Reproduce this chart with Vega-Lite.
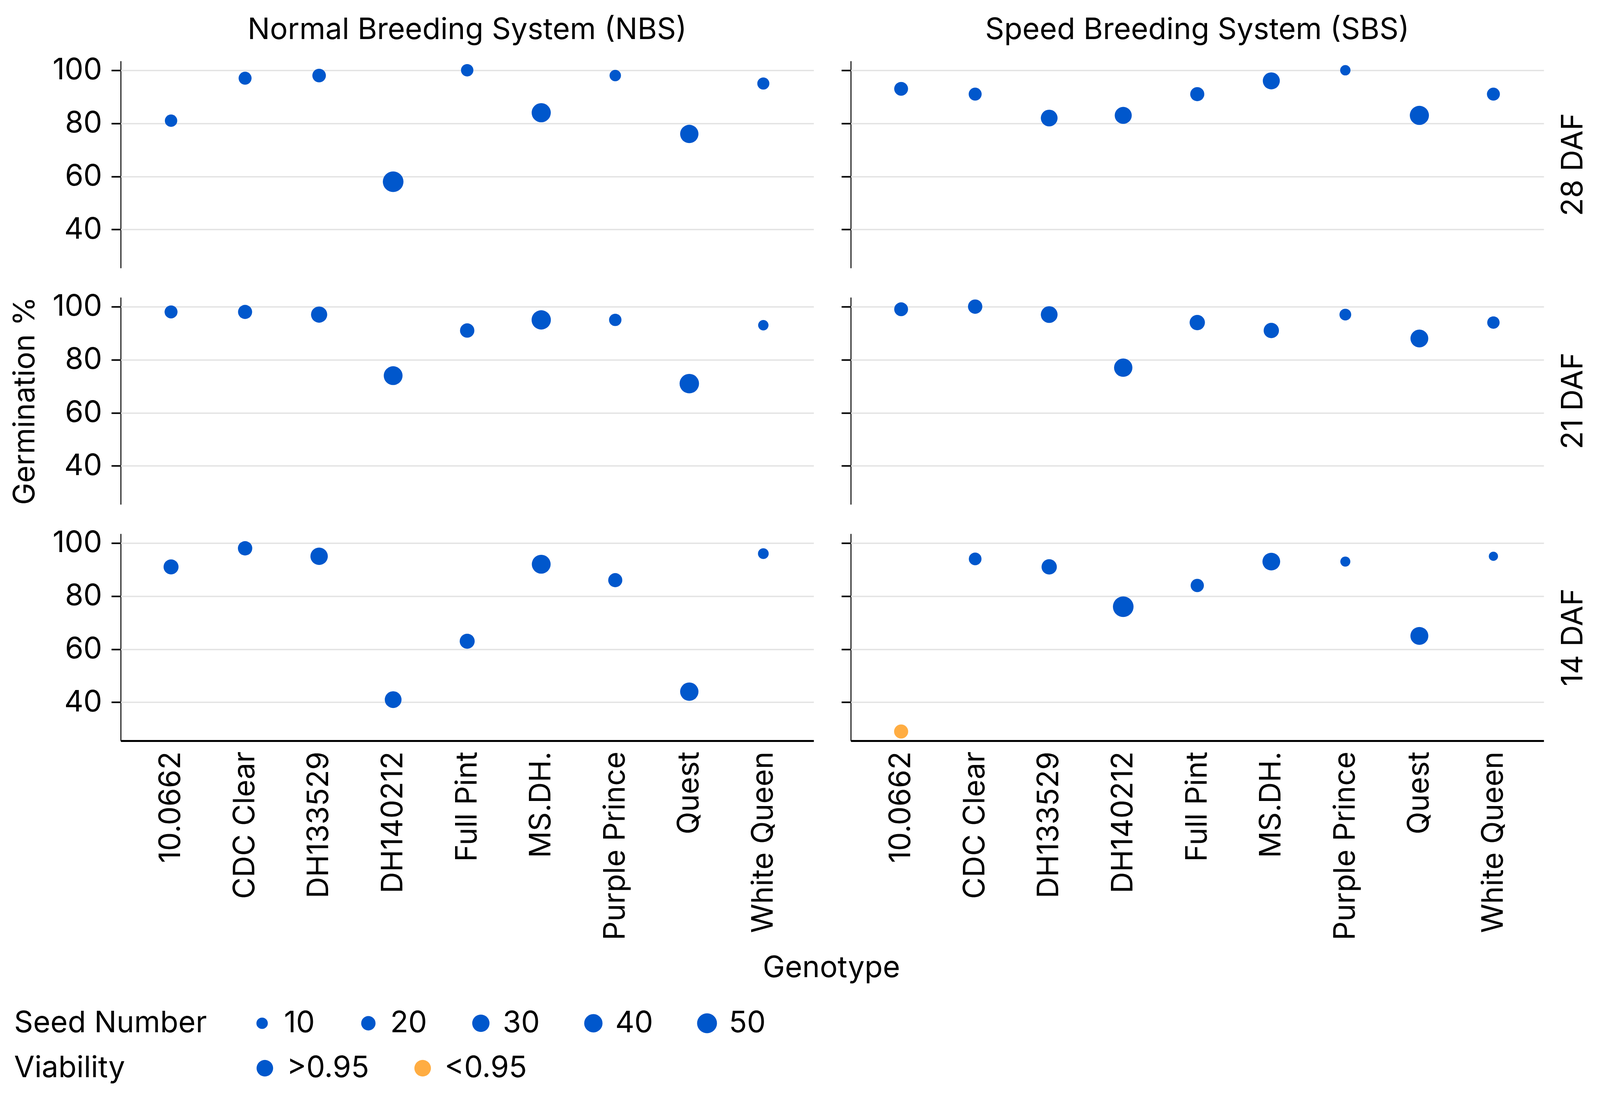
{
  "$schema": "https://vega.github.io/schema/vega-lite/v6.json",
  "background": "white",
  "padding": {"left": 26, "top": 39, "right": 20, "bottom": 20},
  "title": {"text": "Genotype", "orient": "bottom", "anchor": "middle", "frame": "bounds", "offset": -331, "dx": 82, "fontSize": 76, "fontWeight": "normal", "font": "Inter", "color": "black"},
  "config": {
    "font": "Inter",
    "view": {"stroke": null},
    "axis": {"labelFontSize": 76, "titleFontSize": 76, "labelColor": "black", "titleColor": "black", "titleFontWeight": "normal", "gridColor": "#E3E3E3", "gridWidth": 3.5, "domainColor": "black", "tickColor": "black", "labelLimit": 2000, "titleLimit": 2000},
    "header": {"labelFontSize": 76, "titleFontSize": 76, "labelColor": "black", "titleColor": "black", "titleFontWeight": "normal", "labelLimit": 3000, "titleLimit": 3000},
    "legend": {"labelFontSize": 76, "titleFontSize": 76, "labelColor": "black", "titleColor": "black", "titleFontWeight": "normal", "labelLimit": 2000, "titleLimit": 2000}
  },
  "datasets": {
    "germ": [
      {"g": "10.0662", "sys": "Normal Breeding System (NBS)", "daf": "28 DAF", "germ": 81, "seeds": 13, "via": ">0.95"},
      {"g": "CDC Clear", "sys": "Normal Breeding System (NBS)", "daf": "28 DAF", "germ": 97, "seeds": 15, "via": ">0.95"},
      {"g": "DH133529", "sys": "Normal Breeding System (NBS)", "daf": "28 DAF", "germ": 98, "seeds": 17, "via": ">0.95"},
      {"g": "DH140212", "sys": "Normal Breeding System (NBS)", "daf": "28 DAF", "germ": 58, "seeds": 55, "via": ">0.95"},
      {"g": "Full Pint", "sys": "Normal Breeding System (NBS)", "daf": "28 DAF", "germ": 100, "seeds": 13, "via": ">0.95"},
      {"g": "MS.DH.", "sys": "Normal Breeding System (NBS)", "daf": "28 DAF", "germ": 84, "seeds": 45, "via": ">0.95"},
      {"g": "Purple Prince", "sys": "Normal Breeding System (NBS)", "daf": "28 DAF", "germ": 98, "seeds": 10, "via": ">0.95"},
      {"g": "Quest", "sys": "Normal Breeding System (NBS)", "daf": "28 DAF", "germ": 76, "seeds": 40, "via": ">0.95"},
      {"g": "White Queen", "sys": "Normal Breeding System (NBS)", "daf": "28 DAF", "germ": 95, "seeds": 12, "via": ">0.95"},
      {"g": "10.0662", "sys": "Speed Breeding System (SBS)", "daf": "28 DAF", "germ": 93, "seeds": 18, "via": ">0.95"},
      {"g": "CDC Clear", "sys": "Speed Breeding System (SBS)", "daf": "28 DAF", "germ": 91, "seeds": 15, "via": ">0.95"},
      {"g": "DH133529", "sys": "Speed Breeding System (SBS)", "daf": "28 DAF", "germ": 82, "seeds": 28, "via": ">0.95"},
      {"g": "DH140212", "sys": "Speed Breeding System (SBS)", "daf": "28 DAF", "germ": 83, "seeds": 29, "via": ">0.95"},
      {"g": "Full Pint", "sys": "Speed Breeding System (SBS)", "daf": "28 DAF", "germ": 91, "seeds": 19, "via": ">0.95"},
      {"g": "MS.DH.", "sys": "Speed Breeding System (SBS)", "daf": "28 DAF", "germ": 96, "seeds": 29, "via": ">0.95"},
      {"g": "Purple Prince", "sys": "Speed Breeding System (SBS)", "daf": "28 DAF", "germ": 100, "seeds": 7, "via": ">0.95"},
      {"g": "Quest", "sys": "Speed Breeding System (SBS)", "daf": "28 DAF", "germ": 83, "seeds": 45, "via": ">0.95"},
      {"g": "White Queen", "sys": "Speed Breeding System (SBS)", "daf": "28 DAF", "germ": 91, "seeds": 15, "via": ">0.95"},
      {"g": "10.0662", "sys": "Normal Breeding System (NBS)", "daf": "21 DAF", "germ": 98, "seeds": 15, "via": ">0.95"},
      {"g": "CDC Clear", "sys": "Normal Breeding System (NBS)", "daf": "21 DAF", "germ": 98, "seeds": 19, "via": ">0.95"},
      {"g": "DH133529", "sys": "Normal Breeding System (NBS)", "daf": "21 DAF", "germ": 97, "seeds": 26, "via": ">0.95"},
      {"g": "DH140212", "sys": "Normal Breeding System (NBS)", "daf": "21 DAF", "germ": 74, "seeds": 43, "via": ">0.95"},
      {"g": "Full Pint", "sys": "Normal Breeding System (NBS)", "daf": "21 DAF", "germ": 91, "seeds": 20, "via": ">0.95"},
      {"g": "MS.DH.", "sys": "Normal Breeding System (NBS)", "daf": "21 DAF", "germ": 95, "seeds": 46, "via": ">0.95"},
      {"g": "Purple Prince", "sys": "Normal Breeding System (NBS)", "daf": "21 DAF", "germ": 95, "seeds": 13, "via": ">0.95"},
      {"g": "Quest", "sys": "Normal Breeding System (NBS)", "daf": "21 DAF", "germ": 71, "seeds": 47, "via": ">0.95"},
      {"g": "White Queen", "sys": "Normal Breeding System (NBS)", "daf": "21 DAF", "germ": 93, "seeds": 7, "via": ">0.95"},
      {"g": "10.0662", "sys": "Speed Breeding System (SBS)", "daf": "21 DAF", "germ": 99, "seeds": 18, "via": ">0.95"},
      {"g": "CDC Clear", "sys": "Speed Breeding System (SBS)", "daf": "21 DAF", "germ": 100, "seeds": 20, "via": ">0.95"},
      {"g": "DH133529", "sys": "Speed Breeding System (SBS)", "daf": "21 DAF", "germ": 97, "seeds": 28, "via": ">0.95"},
      {"g": "DH140212", "sys": "Speed Breeding System (SBS)", "daf": "21 DAF", "germ": 77, "seeds": 40, "via": ">0.95"},
      {"g": "Full Pint", "sys": "Speed Breeding System (SBS)", "daf": "21 DAF", "germ": 94, "seeds": 23, "via": ">0.95"},
      {"g": "MS.DH.", "sys": "Speed Breeding System (SBS)", "daf": "21 DAF", "germ": 91, "seeds": 23, "via": ">0.95"},
      {"g": "Purple Prince", "sys": "Speed Breeding System (SBS)", "daf": "21 DAF", "germ": 97, "seeds": 11, "via": ">0.95"},
      {"g": "Quest", "sys": "Speed Breeding System (SBS)", "daf": "21 DAF", "germ": 88, "seeds": 35, "via": ">0.95"},
      {"g": "White Queen", "sys": "Speed Breeding System (SBS)", "daf": "21 DAF", "germ": 94, "seeds": 13, "via": ">0.95"},
      {"g": "10.0662", "sys": "Normal Breeding System (NBS)", "daf": "14 DAF", "germ": 91, "seeds": 22, "via": ">0.95"},
      {"g": "CDC Clear", "sys": "Normal Breeding System (NBS)", "daf": "14 DAF", "germ": 98, "seeds": 20, "via": ">0.95"},
      {"g": "DH133529", "sys": "Normal Breeding System (NBS)", "daf": "14 DAF", "germ": 95, "seeds": 31, "via": ">0.95"},
      {"g": "DH140212", "sys": "Normal Breeding System (NBS)", "daf": "14 DAF", "germ": 41, "seeds": 28, "via": ">0.95"},
      {"g": "Full Pint", "sys": "Normal Breeding System (NBS)", "daf": "14 DAF", "germ": 63, "seeds": 22, "via": ">0.95"},
      {"g": "MS.DH.", "sys": "Normal Breeding System (NBS)", "daf": "14 DAF", "germ": 92, "seeds": 43, "via": ">0.95"},
      {"g": "Purple Prince", "sys": "Normal Breeding System (NBS)", "daf": "14 DAF", "germ": 86, "seeds": 19, "via": ">0.95"},
      {"g": "Quest", "sys": "Normal Breeding System (NBS)", "daf": "14 DAF", "germ": 44, "seeds": 40, "via": ">0.95"},
      {"g": "White Queen", "sys": "Normal Breeding System (NBS)", "daf": "14 DAF", "germ": 96, "seeds": 8, "via": ">0.95"},
      {"g": "10.0662", "sys": "Speed Breeding System (SBS)", "daf": "14 DAF", "germ": 29, "seeds": 19, "via": "<0.95"},
      {"g": "CDC Clear", "sys": "Speed Breeding System (SBS)", "daf": "14 DAF", "germ": 94, "seeds": 14, "via": ">0.95"},
      {"g": "DH133529", "sys": "Speed Breeding System (SBS)", "daf": "14 DAF", "germ": 91, "seeds": 23, "via": ">0.95"},
      {"g": "DH140212", "sys": "Speed Breeding System (SBS)", "daf": "14 DAF", "germ": 76, "seeds": 55, "via": ">0.95"},
      {"g": "Full Pint", "sys": "Speed Breeding System (SBS)", "daf": "14 DAF", "germ": 84, "seeds": 16, "via": ">0.95"},
      {"g": "MS.DH.", "sys": "Speed Breeding System (SBS)", "daf": "14 DAF", "germ": 93, "seeds": 34, "via": ">0.95"},
      {"g": "Purple Prince", "sys": "Speed Breeding System (SBS)", "daf": "14 DAF", "germ": 93, "seeds": 6, "via": ">0.95"},
      {"g": "Quest", "sys": "Speed Breeding System (SBS)", "daf": "14 DAF", "germ": 65, "seeds": 36, "via": ">0.95"},
      {"g": "White Queen", "sys": "Speed Breeding System (SBS)", "daf": "14 DAF", "germ": 95, "seeds": 4, "via": ">0.95"}
    ]
  },
  "spacing": 69,
  "resolve": {"scale": {"size": "shared", "color": "shared", "y": "shared", "x": "independent"}},
  "hconcat": [
    {
      "data": {"name": "germ"},
      "transform": [{"filter": "datum.sys === 'Normal Breeding System (NBS)'"}],
      "facet": {
        "row": {"field": "daf", "type": "nominal", "sort": ["28 DAF", "21 DAF", "14 DAF"], "header": {"labels": false, "title": "Germination %", "titleOrient": "left", "titlePadding": 20}},
        "column": {"field": "sys", "type": "nominal", "header": {"title": null, "labelOrient": "top", "labelPadding": 40}}
      },
      "spacing": {"row": 75},
      "spec": {
        "width": 1774,
        "height": 530,
        "mark": {"type": "circle", "opacity": 1},
        "encoding": {
          "x": {"field": "g", "type": "nominal", "sort": ["10.0662", "CDC Clear", "DH133529", "DH140212", "Full Pint", "MS.DH.", "Purple Prince", "Quest", "White Queen"], "scale": {"padding": 0.68}, "axis": {"title": null, "labelAngle": -90, "ticks": false, "domainWidth": 5, "labelPadding": 27, "grid": false}},
          "y": {"field": "germ", "type": "quantitative", "scale": {"domain": [25.5, 103.5], "nice": false, "zero": false}, "axis": {"title": null, "values": [40, 60, 80, 100], "tickSize": 24, "tickWidth": 4, "domainWidth": 2.5, "labelPadding": 24}},
          "size": {"field": "seeds", "type": "quantitative", "scale": {"type": "linear", "domain": [10, 20, 30, 40, 50], "range": [855, 1353, 1963, 2206, 2597], "zero": false},
            "legend": {"title": "Seed Number", "orient": "none", "legendX": -273, "legendY": 2425, "direction": "horizontal", "titleOrient": "left", "values": [10, 20, 30, 40, 50], "symbolType": "circle", "symbolFillColor": "#0057CC", "symbolStrokeWidth": 0, "labelOffset": 18, "columnPadding": 99, "titlePadding": 103}},
          "color": {"field": "via", "type": "nominal", "scale": {"domain": [">0.95", "<0.95"], "range": ["#0057CC", "#FFAD42"]},
            "legend": {"title": "Viability", "orient": "none", "legendX": -273, "legendY": 2540, "direction": "horizontal", "titleOrient": "left", "symbolType": "circle", "symbolSize": 1800, "symbolStrokeWidth": 0, "labelOffset": 18, "columnPadding": 98, "titlePadding": 319}}
        }
      }
    },
    {
      "data": {"name": "germ"},
      "transform": [{"filter": "datum.sys === 'Speed Breeding System (SBS)'"}],
      "facet": {
        "row": {"field": "daf", "type": "nominal", "sort": ["28 DAF", "21 DAF", "14 DAF"], "header": {"title": null, "labelOrient": "right", "labelAngle": -90, "labelPadding": 0}},
        "column": {"field": "sys", "type": "nominal", "header": {"title": null, "labelOrient": "top", "labelPadding": 40}}
      },
      "spacing": {"row": 75},
      "spec": {
        "width": 1774,
        "height": 530,
        "mark": {"type": "circle", "opacity": 1},
        "encoding": {
          "x": {"field": "g", "type": "nominal", "sort": ["10.0662", "CDC Clear", "DH133529", "DH140212", "Full Pint", "MS.DH.", "Purple Prince", "Quest", "White Queen"], "scale": {"padding": 0.68}, "axis": {"title": null, "labelAngle": -90, "ticks": false, "domainWidth": 5, "labelPadding": 27, "grid": false}},
          "y": {"field": "germ", "type": "quantitative", "scale": {"domain": [25.5, 103.5], "nice": false, "zero": false}, "axis": {"title": null, "labels": false, "values": [40, 60, 80, 100], "tickSize": 24, "tickWidth": 4, "domainWidth": 2.5}},
          "size": {"field": "seeds", "type": "quantitative", "scale": {"type": "linear", "domain": [10, 20, 30, 40, 50], "range": [855, 1353, 1963, 2206, 2597], "zero": false}},
          "color": {"field": "via", "type": "nominal", "scale": {"domain": [">0.95", "<0.95"], "range": ["#0057CC", "#FFAD42"]}}
        }
      }
    }
  ]
}
